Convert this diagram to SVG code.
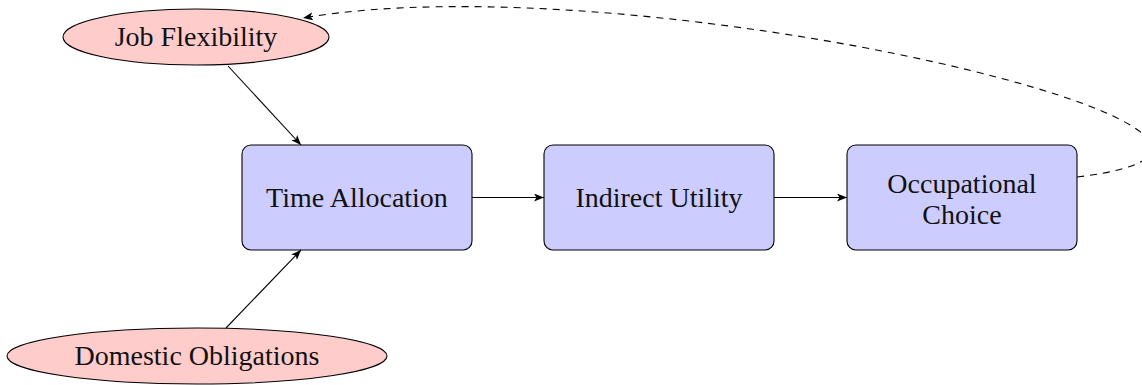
<svg xmlns="http://www.w3.org/2000/svg" width="1142" height="385" viewBox="0 0 1142 385">
<defs>
<style>
.ell{fill:#FFCCCC;stroke:#000;stroke-width:1.1}
.box{fill:#CCCCFF;stroke:#000;stroke-width:1.1}
.lbl{font-family:"Liberation Serif","Times New Roman",serif;font-size:28px;fill:#111;text-anchor:middle}
.edge{fill:none;stroke:#000;stroke-width:1.1}
.dash{stroke-dasharray:7,6}
</style>
<marker id="arr" viewBox="0 0 10 8" refX="10" refY="4" markerWidth="10" markerHeight="8" markerUnits="userSpaceOnUse" orient="auto">
<path d="M0,0 L10,4 L0,8 L2.5,4 Z" fill="#000"/>
</marker>
</defs>
<g id="job-flexibility">
<ellipse class="ell" cx="196" cy="37" rx="133" ry="28"/>
<text class="lbl" x="196" y="46">Job Flexibility</text>
</g>
<g id="domestic-obligations">
<ellipse class="ell" cx="197" cy="356" rx="190" ry="28"/>
<text class="lbl" x="197" y="365">Domestic Obligations</text>
</g>
<g id="time-allocation">
<rect class="box" x="242" y="145" width="230" height="105" rx="9"/>
<text class="lbl" x="357" y="207">Time Allocation</text>
</g>
<g id="indirect-utility">
<rect class="box" x="544" y="145" width="230" height="105" rx="9"/>
<text class="lbl" x="659" y="207">Indirect Utility</text>
</g>
<g id="occupational-choice">
<rect class="box" x="847" y="145" width="230" height="105" rx="9"/>
<text class="lbl" x="962" y="193">Occupational</text>
<text class="lbl" x="962" y="224">Choice</text>
</g>
<g id="connectors">
<line class="edge" x1="228" y1="66" x2="301" y2="145" marker-end="url(#arr)"/>
<line class="edge" x1="226" y1="328" x2="301" y2="250" marker-end="url(#arr)"/>
<line class="edge" x1="472" y1="197.5" x2="544" y2="197.5" marker-end="url(#arr)"/>
<line class="edge" x1="774" y1="197.5" x2="847" y2="197.5" marker-end="url(#arr)"/>
<path class="edge dash" d="M1077,177 C1390,140 640,-40 303,18" marker-end="url(#arr)"/>
</g>
</svg>
